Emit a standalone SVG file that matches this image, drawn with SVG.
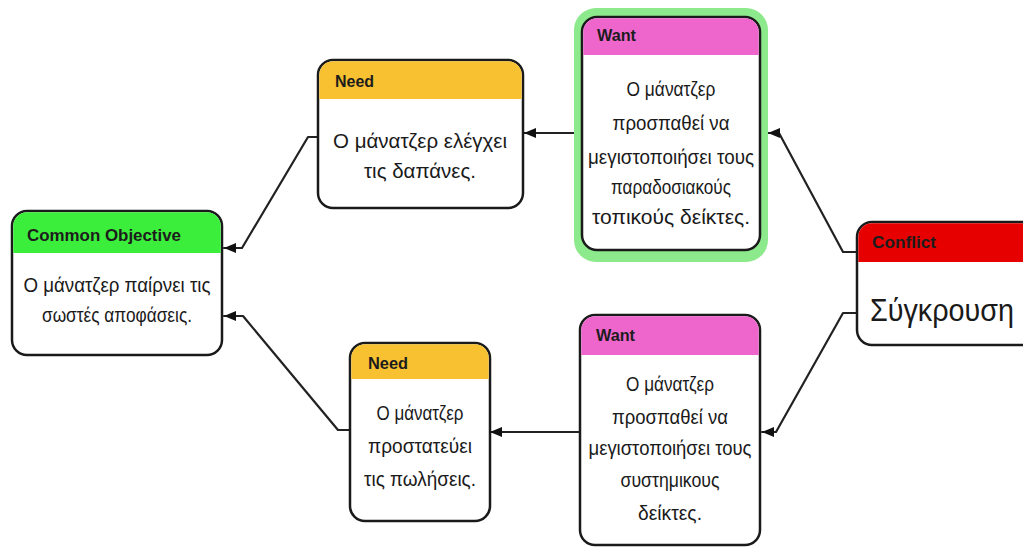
<svg xmlns="http://www.w3.org/2000/svg" width="1023" height="547" viewBox="0 0 1023 547">
  <style>
    .box { fill: #ffffff; stroke: #1a1a1a; stroke-width: 2.5; }
    .hdr { stroke: none; }
    .title { font-family: "Liberation Sans Narrow", "Liberation Sans", Arial, sans-serif; font-weight: bold; font-size: 16px; fill: #1c1c1c; }
    .body { font-family: "Liberation Sans Narrow", "Liberation Sans", Arial, sans-serif; font-size: 21px; fill: #1a1a1a; }
    .big { font-size: 31px; }
    .link { fill: none; stroke: #222222; stroke-width: 2.2; stroke-linejoin: round; stroke-linecap: round; }
  </style>
  <defs>
    <marker id="arrow" viewBox="0 0 12 10" refX="12" refY="5" markerWidth="12" markerHeight="10" markerUnits="userSpaceOnUse" orient="auto">
      <path d="M0,0 L12,5 L0,10 z" fill="#111111"/>
    </marker>
  </defs>

  <rect width="1023" height="547" fill="#ffffff"/>

  <!-- connectors -->
  <g id="connectors">
    <path class="link" marker-end="url(#arrow)" d="M318,137 H308 L242,248 H224"/>
    <path class="link" marker-end="url(#arrow)" d="M350,430 H338 L243,316 H224"/>
    <path class="link" marker-end="url(#arrow)" d="M576,133 H524"/>
    <path class="link" marker-end="url(#arrow)" d="M580,432 H490"/>
    <path class="link" marker-end="url(#arrow)" d="M857,252 H843 L779,133 H768"/>
    <path class="link" marker-end="url(#arrow)" d="M857,313 H843 L776,432 H762"/>
  </g>

  <!-- Common Objective -->
  <g id="common-objective">
    <rect class="box" x="12" y="211" width="210" height="144" rx="15"/>
    <path class="hdr" fill="#3cee3c" d="M13.3,253 V226 A13.7,13.7 0 0 1 27,212.3 H207 A13.7,13.7 0 0 1 220.7,226 V253 Z"/>
    <text class="title" x="27" y="241" textLength="154" lengthAdjust="spacingAndGlyphs" fill="#163016">Common Objective</text>
    <text class="body" x="117" y="292" text-anchor="middle" textLength="187" lengthAdjust="spacingAndGlyphs">Ο μάνατζερ παίρνει τις</text>
    <text class="body" x="117" y="322" text-anchor="middle" textLength="150" lengthAdjust="spacingAndGlyphs">σωστές αποφάσεις.</text>
  </g>

  <!-- Need (upper) -->
  <g id="need-top">
    <rect class="box" x="318" y="60" width="205" height="148" rx="15"/>
    <path class="hdr" fill="#f7c131" d="M319.3,99 V75 A13.7,13.7 0 0 1 333,61.3 H508 A13.7,13.7 0 0 1 521.7,75 V99 Z"/>
    <text class="title" x="335" y="87" textLength="39" lengthAdjust="spacingAndGlyphs">Need</text>
    <text class="body" x="420" y="148" text-anchor="middle" textLength="174" lengthAdjust="spacingAndGlyphs">Ο μάνατζερ ελέγχει</text>
    <text class="body" x="420" y="178" text-anchor="middle" textLength="112" lengthAdjust="spacingAndGlyphs">τις δαπάνες.</text>
  </g>

  <!-- Want (upper, highlighted) -->
  <g id="want-top">
    <rect x="574" y="8" width="194" height="254" rx="22" fill="#8cea8c"/>
    <rect class="box" x="582" y="17" width="178" height="233" rx="15"/>
    <path class="hdr" fill="#ee66cc" d="M583.3,55 V32 A13.7,13.7 0 0 1 597,18.3 H745 A13.7,13.7 0 0 1 758.7,32 V55 Z"/>
    <text class="title" x="597" y="41" textLength="39" lengthAdjust="spacingAndGlyphs" fill="#2a0a24">Want</text>
    <text class="body" x="671" y="96" text-anchor="middle" textLength="89" lengthAdjust="spacingAndGlyphs">Ο μάνατζερ</text>
    <text class="body" x="671" y="130" text-anchor="middle" textLength="117" lengthAdjust="spacingAndGlyphs">προσπαθεί να</text>
    <text class="body" x="671" y="164" text-anchor="middle" textLength="166" lengthAdjust="spacingAndGlyphs">μεγιστοποιήσει τους</text>
    <text class="body" x="671" y="194" text-anchor="middle" textLength="120" lengthAdjust="spacingAndGlyphs">παραδοσιακούς</text>
    <text class="body" x="671" y="224" text-anchor="middle" textLength="158" lengthAdjust="spacingAndGlyphs">τοπικούς δείκτες.</text>
  </g>

  <!-- Conflict -->
  <g id="conflict">
    <rect class="box" x="857" y="222" width="180" height="123" rx="15"/>
    <path class="hdr" fill="#e60000" d="M858.3,262 V237 A13.7,13.7 0 0 1 872,223.3 H1022 A13.7,13.7 0 0 1 1035.7,237 V262 Z"/>
    <text class="title" x="872" y="248" textLength="64" lengthAdjust="spacingAndGlyphs" fill="#ffffff">Conflict</text>
    <text class="body big" x="870" y="321" textLength="144" lengthAdjust="spacingAndGlyphs">Σύγκρουση</text>
  </g>

  <!-- Need (lower) -->
  <g id="need-bottom">
    <rect class="box" x="350" y="343" width="140" height="178" rx="15"/>
    <path class="hdr" fill="#f7c131" d="M351.3,379 V358 A13.7,13.7 0 0 1 365,344.3 H475 A13.7,13.7 0 0 1 488.7,358 V379 Z"/>
    <text class="title" x="368" y="369" textLength="40" lengthAdjust="spacingAndGlyphs">Need</text>
    <text class="body" x="420" y="420" text-anchor="middle" textLength="87" lengthAdjust="spacingAndGlyphs">Ο μάνατζερ</text>
    <text class="body" x="420" y="453" text-anchor="middle" textLength="104" lengthAdjust="spacingAndGlyphs">προστατεύει</text>
    <text class="body" x="420" y="486" text-anchor="middle" textLength="112" lengthAdjust="spacingAndGlyphs">τις πωλήσεις.</text>
  </g>

  <!-- Want (lower) -->
  <g id="want-bottom">
    <rect class="box" x="580" y="315" width="180" height="230" rx="15"/>
    <path class="hdr" fill="#ee66cc" d="M581.3,355 V330 A13.7,13.7 0 0 1 595,316.3 H745 A13.7,13.7 0 0 1 758.7,330 V355 Z"/>
    <text class="title" x="596" y="341" textLength="39" lengthAdjust="spacingAndGlyphs" fill="#2a0a24">Want</text>
    <text class="body" x="670" y="391" text-anchor="middle" textLength="88" lengthAdjust="spacingAndGlyphs">Ο μάνατζερ</text>
    <text class="body" x="670" y="424" text-anchor="middle" textLength="116" lengthAdjust="spacingAndGlyphs">προσπαθεί να</text>
    <text class="body" x="670" y="455" text-anchor="middle" textLength="163" lengthAdjust="spacingAndGlyphs">μεγιστοποιήσει τους</text>
    <text class="body" x="670" y="487" text-anchor="middle" textLength="99" lengthAdjust="spacingAndGlyphs">συστημικους</text>
    <text class="body" x="670" y="520" text-anchor="middle" textLength="64" lengthAdjust="spacingAndGlyphs">δείκτες.</text>
  </g>
</svg>
